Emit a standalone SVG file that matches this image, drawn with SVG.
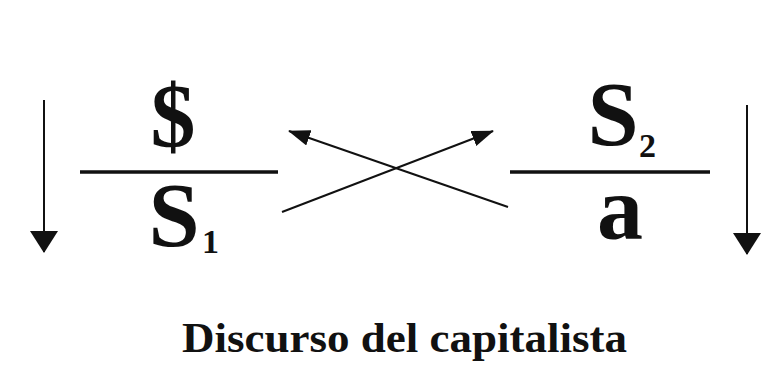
<svg xmlns="http://www.w3.org/2000/svg" width="779" height="383" viewBox="0 0 779 383">
<defs>
<style>
.t{font-family:"Liberation Serif","Times New Roman",serif;font-weight:bold;fill:#111}
.big{font-size:92px}
.sub{font-size:34px}
.bar{stroke:#111;stroke-width:3.5}
.arr{stroke:#111;stroke-width:2;fill:none}
</style>
<marker id="ah" viewBox="0 0 22 16" refX="21" refY="8" markerWidth="22" markerHeight="16" markerUnits="userSpaceOnUse" orient="auto">
<path d="M0,0 L22,8 L0,16 Z" fill="#111"/>
</marker>
<marker id="ahv" viewBox="0 0 22 28" refX="21" refY="14" markerWidth="22" markerHeight="28" markerUnits="userSpaceOnUse" orient="auto">
<path d="M0,0 L22,14 L0,28 Z" fill="#111"/>
</marker>
</defs>
<rect width="779" height="383" fill="#fff"/>
<g id="left-fraction">
<text class="t" x="173" y="147" font-size="90" text-anchor="middle">$</text>
<line class="bar" x1="80" y1="172" x2="278" y2="172"/>
<text class="t big" x="174" y="246" text-anchor="middle">S</text>
<text class="t sub" x="202" y="253">1</text>
</g>
<g id="right-fraction">
<text class="t big" x="613" y="145" text-anchor="middle">S</text>
<text class="t sub" x="639" y="157">2</text>
<line class="bar" x1="510" y1="172" x2="710" y2="172"/>
<text class="t big" x="620" y="239" text-anchor="middle">a</text>
</g>
<g id="title">
<text class="t" x="182" y="352" font-size="42" textLength="445" lengthAdjust="spacingAndGlyphs">Discurso del capitalista</text>
</g>
<g id="connectors">
<line class="arr" x1="44" y1="100" x2="44" y2="252" marker-end="url(#ahv)"/>
<line class="arr" x1="747" y1="105" x2="747" y2="254" marker-end="url(#ahv)"/>
<line class="arr" x1="282" y1="212" x2="493" y2="131" marker-end="url(#ah)"/>
<line class="arr" x1="508" y1="207" x2="289" y2="131" marker-end="url(#ah)"/>
</g>
</svg>
